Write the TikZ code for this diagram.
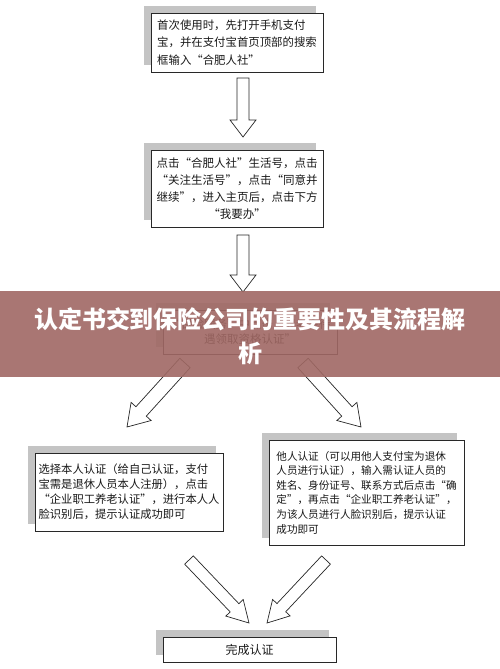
\documentclass[tikz,border=0pt]{standalone}
\usepackage{fontspec}
\newfontfamily\cjk{Noto Sans CJK SC}
\usetikzlibrary{calc,shadows}
\definecolor{shadowgray}{RGB}{196,196,196}
\definecolor{bannerc}{RGB}{160,104,100}
\definecolor{edgec}{RGB}{40,40,40}
\tikzset{
  box/.style={draw=edgec, fill=white, line width=0.8pt, rectangle, inner sep=0pt,
    font=\cjk, text=black!90,
    drop shadow={shadow xshift=-7pt, shadow yshift=7pt, opacity=1, fill=shadowgray}},
  barrow/.style={draw=black!85, fill=white, line width=0.7pt, line join=miter},
  banner/.style={fill=bannerc, fill opacity=0.9, draw=none, inner sep=0pt,
    minimum width=500pt, minimum height=86pt},
  titletext/.style={text=white, align=center, font=\fontsize{24}{34}\selectfont\cjk\bfseries}
}
\newcommand\blockarrow[5]{%
  \draw[barrow] ($(#1)!#3!90:(#2)$) -- ($(#2)!#5!(#1)!#3!90:(#2)$) --
    ($(#2)!#5!(#1)!#4!90:(#2)$) -- (#2) -- ($(#2)!#5!(#1)!#4!-90:(#2)$) --
    ($(#2)!#5!(#1)!#3!-90:(#2)$) -- ($(#1)!#3!-90:(#2)$) -- cycle;}
\begin{document}
\begin{tikzpicture}[x=1pt,y=-1pt]
\useasboundingbox (0,0) rectangle (500,669);
\fill[white] (0,0) rectangle (500,669);

% boxes
\node[box, minimum width=172pt, minimum height=59pt, align=left,
  font=\fontsize{11.4}{17.5}\selectfont\cjk] (b1) at (237,42.5)
  {首次使用时，先打开手机支付\\宝，并在支付宝首页顶部的搜索\\框输入“合肥人社”};
\node[box, minimum width=172pt, minimum height=77pt, align=center,
  font=\fontsize{11.5}{16.8}\selectfont\cjk] (b2) at (237,188.5)
  {点击“合肥人社”生活号，点击\\“关注生活号”，点击“同意并\\继续”，进入主页后，点击下方\\“我要办”};
\node[box, minimum width=174pt, minimum height=44pt, align=center,
  font=\fontsize{11.5}{15}\selectfont\cjk] (b3) at (250,332)
  {“保险服务”中点击“养老金待\\遇领取资格认证”};
\node[box, minimum width=188pt, minimum height=78pt, align=left,
  font=\fontsize{11.3}{15}\selectfont\cjk] (b4) at (129,492)
  {选择本人认证（给自己认证，支付\\宝需是退休人员本人注册），点击\\“企业职工养老认证”，进行本人人\\脸识别后，提示认证成功即可};
\node[box, minimum width=195pt, minimum height=105pt, align=left,
  font=\fontsize{10.6}{14.6}\selectfont\cjk] (b5) at (366.5,492.5)
  {他人认证（可以用他人支付宝为退休\\人员进行认证），输入需认证人员的\\姓名、身份证号、联系方式后点击“确\\定”，再点击“企业职工养老认证”，\\为该人员进行人脸识别后，提示认证\\成功即可};
\node[box, minimum width=173pt, minimum height=25pt,
  font=\fontsize{12}{14}\selectfont\cjk] (b6) at (249.5,649.5) {完成认证};

% arrow end points
\coordinate (a1s) at (243,78);   \coordinate (a1e) at (243,137);
\coordinate (a2s) at (243,235);  \coordinate (a2e) at (243,292);
\coordinate (a3s) at (185,363);  \coordinate (a3e) at (127,427);
\coordinate (a4s) at (303,363);  \coordinate (a4e) at (361,427);
\coordinate (a5s) at (189,560);  \coordinate (a5e) at (249,623);
\coordinate (a6s) at (326,560);  \coordinate (a6e) at (267,623);

\blockarrow{a1s}{a1e}{6pt}{13pt}{17pt}
\blockarrow{a2s}{a2e}{6pt}{13pt}{17pt}
\blockarrow{a3s}{a3e}{7pt}{13.5pt}{21pt}
\blockarrow{a4s}{a4e}{7pt}{13.5pt}{21pt}
\blockarrow{a5s}{a5e}{6pt}{12pt}{21pt}
\blockarrow{a6s}{a6e}{6pt}{12pt}{21pt}

% banner
\node[banner] (ban) at (250,334) {};
\node[titletext] (title) at (250,336) {认定书交到保险公司的重要性及其流程解\\析};
\end{tikzpicture}
\end{document}
